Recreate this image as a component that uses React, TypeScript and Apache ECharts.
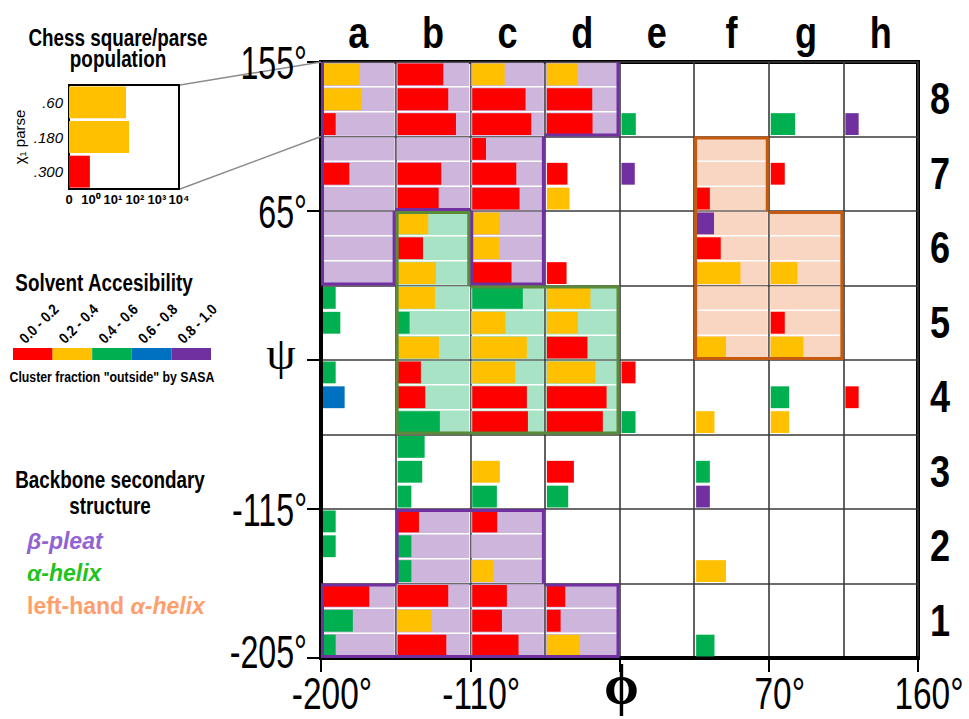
import React, { useEffect, useRef } from 'react';
import * as echarts from 'echarts';

// ---------- data ----------
const columns = ['a', 'b', 'c', 'd', 'e', 'f', 'g', 'h'];
const rowLabels = ['1', '2', '3', '4', '5', '6', '7', '8'];
const phiTicks = [-200, -110, -20, 70, 160];
const phiTickLabels = ['-200°', '-110°', 'ϕ', '70°', '160°'];
const psiTicks = [-205, -115, -25, 65, 155];
const psiTickLabels = ['-205°', '-115°', 'ψ', '65°', '155°'];
const parses = ['.60', '.180', '.300'];
const popTicks = ['0', '10⁰', '10¹', '10²', '10³', '10⁴'];
const sasaBins = ['0.0 - 0.2', '0.2 - 0.4', '0.4 - 0.6', '0.6 - 0.8', '0.8 - 1.0'];

// secondary-structure regions (chess squares)
const betaCells = ['a8', 'b8', 'c8', 'd8', 'a7', 'b7', 'c7', 'a6', 'c6', 'b2', 'c2', 'a1', 'b1', 'c1', 'd1'];
const alphaCells = ['b6', 'b5', 'c5', 'd5', 'b4', 'c4', 'd4'];
const leftHandCells = ['f7', 'f6', 'g6', 'f5', 'g5'];

// bars: [square, parse index (0=.60, 1=.180, 2=.300), log population (1 = 10^0 ... 5 = 10^4), SASA bin]
const row8Bars = [
  ['a8', 0, 2.48, 1], ['a8', 1, 2.61, 1], ['a8', 2, 0.85, 0],
  ['b8', 0, 3.06, 0], ['b8', 1, 3.39, 0], ['b8', 2, 3.91, 0],
  ['c8', 0, 2.17, 1], ['c8', 1, 3.57, 0], ['c8', 2, 3.95, 0],
  ['d8', 0, 2.03, 1], ['d8', 1, 3.04, 0], ['d8', 2, 3.06, 0],
  ['e8', 2, 0.96, 2], ['g8', 2, 1.63, 2], ['h8', 2, 0.89, 4],
];
const row7Bars = [
  ['a7', 1, 1.76, 0], ['b7', 1, 2.92, 0], ['b7', 2, 2.75, 0],
  ['c7', 0, 0.92, 0], ['c7', 1, 2.95, 0], ['c7', 2, 3.17, 0],
  ['d7', 1, 1.38, 0], ['d7', 2, 1.52, 1], ['e7', 1, 0.89, 4],
  ['f7', 2, 0.92, 0], ['g7', 1, 0.94, 0],
];
const row6Bars = [
  ['b6', 0, 2.05, 1], ['b6', 1, 1.7, 0], ['b6', 2, 2.57, 1],
  ['c6', 0, 1.83, 1], ['c6', 1, 1.79, 1], ['c6', 2, 2.63, 0],
  ['d6', 2, 1.32, 0], ['f6', 0, 1.2, 4], ['f6', 1, 1.65, 0], ['f6', 2, 2.97, 1],
  ['g6', 2, 1.79, 1],
];
const row5Bars = [
  ['a5', 0, 0.85, 2], ['a5', 1, 1.16, 2],
  ['b5', 0, 2.5, 1], ['b5', 1, 0.8, 2], ['b5', 2, 2.77, 1],
  ['c5', 0, 3.39, 2], ['c5', 1, 2.23, 1], ['c5', 2, 3.66, 1],
  ['d5', 0, 2.92, 1], ['d5', 1, 2.08, 1], ['d5', 2, 2.72, 0],
  ['f5', 2, 2.0, 1], ['g5', 1, 0.94, 0], ['g5', 2, 2.19, 1],
];
const row4Bars = [
  ['a4', 0, 0.85, 2], ['a4', 1, 1.45, 3],
  ['b4', 0, 1.56, 0], ['b4', 1, 1.85, 0], ['b4', 2, 2.83, 2],
  ['c4', 0, 2.88, 1], ['c4', 1, 3.66, 0], ['c4', 2, 3.73, 0],
  ['d4', 0, 3.26, 1], ['d4', 1, 4.0, 0], ['d4', 2, 3.75, 0],
  ['e4', 0, 0.94, 0], ['e4', 2, 0.94, 2], ['f4', 2, 1.23, 1],
  ['g4', 1, 1.23, 2], ['g4', 2, 1.23, 1], ['h4', 1, 0.89, 0],
];
const row3Bars = [
  ['b3', 0, 1.81, 2], ['b3', 1, 1.65, 2], ['b3', 2, 0.92, 2],
  ['c3', 1, 1.85, 1], ['c3', 2, 1.65, 2],
  ['d3', 1, 1.81, 0], ['d3', 2, 1.43, 2],
  ['f3', 1, 0.92, 2], ['f3', 2, 0.92, 4],
];
const row2Bars = [
  ['a2', 0, 0.85, 2], ['a2', 1, 0.85, 2],
  ['b2', 0, 1.43, 0], ['b2', 1, 0.92, 2], ['b2', 2, 0.92, 2],
  ['c2', 0, 1.67, 0], ['c2', 2, 1.45, 1], ['f2', 2, 2.0, 1],
];
const row1Bars = [
  ['a1', 0, 3.1, 0], ['a1', 1, 2.0, 2], ['a1', 2, 0.85, 2],
  ['b1', 0, 3.39, 0], ['b1', 1, 2.28, 1], ['b1', 2, 3.26, 0],
  ['c1', 0, 2.32, 0], ['c1', 1, 1.99, 0], ['c1', 2, 3.1, 0],
  ['d1', 0, 1.23, 0], ['d1', 1, 0.92, 0], ['d1', 2, 2.21, 1],
  ['f1', 2, 1.23, 2],
];

// inset (square a8 magnified)
const insetPop = [2.59, 2.73, 0.95];
const insetSasa = [1, 1, 0];

// ---------- styles ----------
const sasaColors = ['#FF0000', '#FFC000', '#00B050', '#0070C0', '#7030A0'];
const regionFill = ['#CDB5DC', '#A8E3C5', '#F9D6C1'];
const regionLine = ['#7030A0', '#5B8A3A', '#C55A11'];
const SANS = "'Liberation Sans', Arial, sans-serif";
const SERIF = "'Liberation Serif', 'DejaVu Serif', 'Times New Roman', serif";
const NARROW_X = 0.82; // Arial -> Arial Narrow width

const X0 = -200, Y0 = -205, STEP = 45;

function sq(s: string) {
  return [columns.indexOf(s[0]), Number(s[1])];
}

const regions = [betaCells, alphaCells, leftHandCells];
const regionData: number[][] = [];
regions.forEach((cells, t) => cells.forEach((s) => { const [c, r] = sq(s); regionData.push([c, r, t]); }));

const edgeData: number[][] = [];
regions.forEach((cells, t) => {
  const set = new Set(cells);
  cells.forEach((s) => {
    const [c, r] = sq(s);
    const nb = [[c, r + 1], [c + 1, r], [c, r - 1], [c - 1, r]]; // top, right, bottom, left
    nb.forEach(([nc, nr], side) => {
      if (side === 0 && r === 8) return;
      const key = (nc >= 0 && nc < 8 ? columns[nc] : '?') + nr;
      if (!set.has(key)) edgeData.push([c, r, side, t]);
    });
  });
});

const barData = [...row8Bars, ...row7Bars, ...row6Bars, ...row5Bars, ...row4Bars, ...row3Bars, ...row2Bars, ...row1Bars]
  .map((b: any) => { const [c, r] = sq(b[0]); return [c, r, b[1], b[2], b[3]]; });

function cellBox(api: any, c: number, r: number) {
  const left = X0 + STEP * c;
  const top = Y0 + STEP * r;
  const tl = api.coord([left, top]);
  const br = api.coord([left + STEP, top - STEP]);
  return { tl, br, left, top };
}

function txt(x: number, y: number, text: string, style: any, scaleX = 1, extra: any = {}) {
  return {
    type: 'text', x, y, scaleX, z: 20, ...extra,
    style: { text, fontFamily: SANS, fill: '#000', align: 'center', verticalAlign: 'middle', ...style },
  };
}

export default function App() {
  const ref = useRef<HTMLDivElement>(null);
  useEffect(() => {
    const chart = echarts.init(ref.current!, null, { renderer: 'svg' });
    const option: any = {
      animation: false,
      backgroundColor: '#ffffff',
      grid: [
        { left: 321, top: 62, width: 597, height: 596, show: true, borderColor: '#000', borderWidth: 4, backgroundColor: 'transparent' },
        { left: 69, top: 85, width: 110, height: 104, show: true, borderColor: '#000', borderWidth: 2 },
      ],
      xAxis: [
        {
          type: 'value', gridIndex: 0, min: -200, max: 160, interval: 90, position: 'bottom',
          axisLine: { show: true, onZero: false, lineStyle: { color: '#000', width: 4 } },
          axisTick: { show: true, length: 14, lineStyle: { color: '#000', width: 2 } },
          splitLine: { show: false }, axisLabel: { show: false },
        },
        {
          type: 'value', gridIndex: 0, min: -200, max: 160, interval: 45, position: 'top',
          axisLine: { show: false }, axisTick: { show: false }, axisLabel: { show: false },
          splitLine: { show: true, lineStyle: { color: '#3a3a3a', width: 1.6 } },
        },
        {
          type: 'value', gridIndex: 1, min: 0, max: 5, interval: 1,
          axisLine: { show: false }, axisTick: { show: false }, splitLine: { show: false },
          axisLabel: {
            margin: 4, showMinLabel: true, showMaxLabel: true, fontFamily: SANS, fontWeight: 'bold', fontSize: 13, color: '#000',
            formatter: (v: number, i: number) => popTicks[i],
          },
        },
      ],
      yAxis: [
        {
          type: 'value', gridIndex: 0, min: -205, max: 155, interval: 90, position: 'left',
          axisLine: { show: true, onZero: false, lineStyle: { color: '#000', width: 4 } },
          axisTick: { show: true, length: 14, lineStyle: { color: '#000', width: 2 } },
          splitLine: { show: false }, axisLabel: { show: false },
        },
        {
          type: 'value', gridIndex: 0, min: -205, max: 155, interval: 45, position: 'right',
          axisLine: { show: false }, axisTick: { show: false }, axisLabel: { show: false },
          splitLine: { show: true, lineStyle: { color: '#3a3a3a', width: 1.6 } },
        },
        {
          type: 'category', gridIndex: 1, data: parses, inverse: true,
          axisLine: { show: false }, axisTick: { show: false }, splitLine: { show: false },
          axisLabel: { margin: 6, fontFamily: SANS, fontStyle: 'italic', fontSize: 15, color: '#000' },
          name: 'χ₁ parse', nameLocation: 'middle', nameGap: 42, nameRotate: 90,
          nameTextStyle: { fontFamily: SANS, fontSize: 15, color: '#000' },
        },
      ],
      series: [
        {
          type: 'custom', xAxisIndex: 0, yAxisIndex: 0, z: 1, data: regionData,
          renderItem: (params: any, api: any) => {
            const { tl, br } = cellBox(api, api.value(0), api.value(1));
            const t = api.value(2);
            const h = (br[1] - tl[1]) / 3;
            return {
              type: 'group',
              children: [0, 1, 2].map((k) => ({
                type: 'rect',
                shape: { x: tl[0] + 1, y: tl[1] + k * h + 0.75, width: br[0] - tl[0] - 2, height: h - 1.5 },
                style: { fill: regionFill[t] },
              })),
            };
          },
        },
        {
          type: 'custom', xAxisIndex: 0, yAxisIndex: 0, z: 3, data: barData,
          renderItem: (params: any, api: any) => {
            const c = api.value(0), r = api.value(1), k = api.value(2), len = api.value(3), s = api.value(4);
            const { tl, br, left, top } = cellBox(api, c, r);
            const end = api.coord([left + (len * STEP) / 5, top]);
            const h = (br[1] - tl[1]) / 3;
            return {
              type: 'rect',
              shape: { x: tl[0] + 2, y: tl[1] + k * h + 1.5, width: end[0] - tl[0], height: h - 3 },
              style: { fill: sasaColors[s] },
            };
          },
        },
        {
          type: 'custom', xAxisIndex: 0, yAxisIndex: 0, z: 4, data: edgeData,
          renderItem: (params: any, api: any) => {
            const c = api.value(0), r = api.value(1), side = api.value(2), t = api.value(3);
            const { tl, br } = cellBox(api, c, r);
            const d = 1.5;
            let shape: any;
            if (side === 0) shape = { x1: tl[0], y1: tl[1] + d, x2: br[0], y2: tl[1] + d };
            else if (side === 1) shape = { x1: br[0] - d, y1: tl[1], x2: br[0] - d, y2: br[1] };
            else if (side === 2) shape = { x1: tl[0], y1: br[1] - d, x2: br[0], y2: br[1] - d };
            else shape = { x1: tl[0] + d, y1: tl[1], x2: tl[0] + d, y2: br[1] };
            return { type: 'line', shape, style: { stroke: regionLine[t], lineWidth: 3 } };
          },
        },
        {
          type: 'bar', xAxisIndex: 2, yAxisIndex: 2, barCategoryGap: '8%',
          data: insetPop.map((v, i) => ({ value: v, itemStyle: { color: sasaColors[insetSasa[i]] } })),
        },
      ],
    };
    chart.setOption(option);

    const px = (x: number, y: number) => chart.convertToPixel({ xAxisIndex: 0, yAxisIndex: 0 } as any, [x, y]) as number[];
    const p1 = px(X0, Y0 + STEP * 8);
    const p2 = px(X0, Y0 + STEP * 7);
    const insetRight = 69 + 110, insetTop = 85, insetBottom = 85 + 104;

    const head = { fontWeight: 'bold', fontSize: 23 };
    const elements: any[] = [
      { type: 'line', z: 10, shape: { x1: insetRight + 1, y1: insetTop, x2: p1[0], y2: p1[1] }, style: { stroke: '#8c8c8c', lineWidth: 1.5 } },
      { type: 'line', z: 10, shape: { x1: insetRight + 1, y1: insetBottom, x2: p2[0], y2: p2[1] }, style: { stroke: '#8c8c8c', lineWidth: 1.5 } },
      txt(118, 48, 'Chess square/parse\npopulation', { ...head, lineHeight: 21 }, NARROW_X),
      txt(104, 283, 'Solvent Accesibility', head, NARROW_X),
      txt(112, 377, 'Cluster fraction "outside" by SASA', { fontWeight: 'bold', fontSize: 15 }, NARROW_X),
      txt(110, 493, 'Backbone secondary\nstructure', { ...head, lineHeight: 26 }, NARROW_X),
      txt(27, 541, 'β-pleat', { fontWeight: 'bold', fontStyle: 'italic', fontSize: 23, fill: '#9263D3', align: 'left' }),
      txt(27, 573, 'α-helix', { fontWeight: 'bold', fontStyle: 'italic', fontSize: 23, fill: '#1FC41F', align: 'left' }),
      txt(27, 606, '{n|left-hand }{i|α-helix}', {
        align: 'left',
        rich: {
          n: { fontFamily: SANS, fontWeight: 'bold', fontSize: 23, fill: '#FF9E6B' },
          i: { fontFamily: SANS, fontWeight: 'bold', fontStyle: 'italic', fontSize: 23, fill: '#FF9E6B' },
        },
      }),
    ];
    sasaBins.forEach((label, i) => {
      const segW = 198 / sasaBins.length;
      elements.push({ type: 'rect', shape: { x: 13 + i * segW, y: 348, width: segW, height: 12 }, style: { fill: sasaColors[i] } });
      elements.push(txt(13 + i * segW + 14, 346, label,
        { fontWeight: 'bold', fontSize: 15, align: 'left', verticalAlign: 'bottom' }, 0.88, { rotation: Math.PI / 4 }));
    });
    // column letters and row numbers
    columns.forEach((c, i) => {
      const p = px(X0 + STEP * i + STEP / 2, Y0 + STEP * 8);
      elements.push(txt(p[0], p[1] - 29, c, { fontWeight: 'bold', fontSize: 44 }, NARROW_X));
    });
    rowLabels.forEach((r, i) => {
      const p = px(X0 + STEP * 8, Y0 + STEP * i + STEP / 2);
      elements.push(txt(p[0] + 22, p[1], r, { fontWeight: 'bold', fontSize: 44 }, NARROW_X));
    });
    // axis tick labels
    phiTicks.forEach((v, i) => {
      const p = px(v, Y0);
      if (i === 2) elements.push(txt(p[0] + 2, p[1] + 27, phiTickLabels[i], { fontFamily: SERIF, fontSize: 56, fontWeight: 'bold' }));
      else elements.push(txt(p[0] + 11, p[1] + 36, phiTickLabels[i], { fontSize: 44 }, 0.76));
    });
    psiTicks.forEach((v, i) => {
      const p = px(X0, v);
      if (i === 2) elements.push(txt(p[0] - 40, p[1] - 7, psiTickLabels[i], { fontFamily: SERIF, fontSize: 47 }));
      else elements.push(txt(p[0] - 14, p[1] + (i === 0 ? -6 : 1), psiTickLabels[i], { fontSize: 46, align: 'right' }, 0.7));
    });
    chart.setOption({ graphic: { elements } });
    return () => chart.dispose();
  }, []);
  return <div ref={ref} style={{ position: 'absolute', left: 0, top: 0, width: 969, height: 719 }} />;
}
